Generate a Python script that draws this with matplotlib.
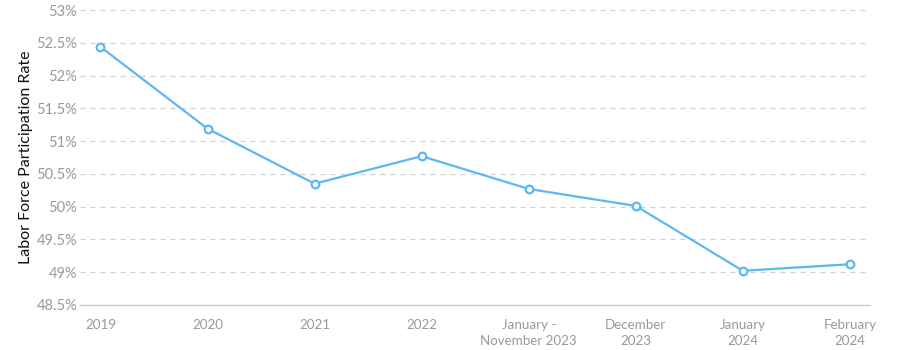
import matplotlib.pyplot as plt
from matplotlib.ticker import FuncFormatter

plt.rcParams['font.family'] = ['Lato', 'DejaVu Sans']

periods = ['2019', '2020', '2021', '2022', 'January -\nNovember 2023',
           'December\n2023', 'January\n2024', 'February\n2024']
rate = [52.44, 51.19, 50.35, 50.77, 50.27, 50.01, 49.02, 49.12]
yticks = [48.5, 49, 49.5, 50, 50.5, 51, 51.5, 52, 52.5, 53]

fig = plt.figure(figsize=(9, 3.5), dpi=100)
ax = fig.add_axes([0.089, 0.129, 0.878, 0.842])

x = list(range(len(periods)))
ax.plot(x, rate, color='#5bb8f2', linewidth=1.6, marker='o', markersize=5.5,
        markerfacecolor='white', markeredgecolor='#5bb8f2', markeredgewidth=1.6,
        zorder=3)

ax.set_xlim(-0.19, len(periods) - 1 + 0.19)
ax.set_ylim(48.5, 53)
ax.set_yticks(yticks)
ax.yaxis.set_major_formatter(FuncFormatter(lambda v, p: f'{v:g}%'))
ax.set_xticks(x)
ax.set_xticklabels(periods, linespacing=1.45)

ax.grid(axis='y', color='#d0d0d0', linestyle=(0, (4, 4)), linewidth=0.9)
ax.set_axisbelow(True)
for side in ['top', 'right', 'left']:
    ax.spines[side].set_visible(False)
ax.spines['bottom'].set_color('#cccccc')
ax.spines['bottom'].set_linewidth(1.0)

ax.tick_params(axis='both', length=0, colors='#999999')
ax.tick_params(axis='x', pad=10, labelsize=9.6)
ax.tick_params(axis='y', pad=2, labelsize=10.5)
ax.set_ylabel('Labor Force Participation Rate', fontsize=11.5, color='#111111')
ax.yaxis.set_label_coords(-0.059, 0.5)

fig.savefig('out.png', dpi=100)
